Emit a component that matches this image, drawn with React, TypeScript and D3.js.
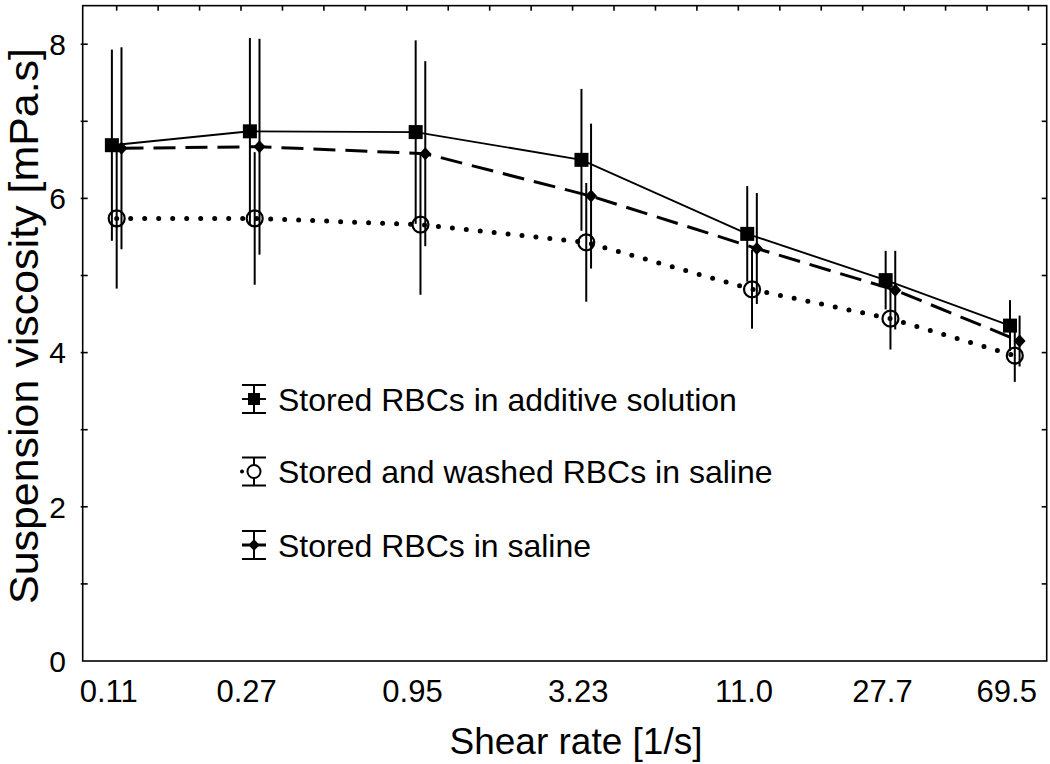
import React from "react";
import * as d3 from "d3";

// ---- data ----
const shearLabels = ["0.11", "0.27", "0.95", "3.23", "11.0", "27.7", "69.5"];
// category positions on the (hidden) x axis, in units of the top minor ticks
const shearPositions = [0, 3.33, 7.33, 11.33, 15.33, 18.67, 21.67];

const additiveMean = [6.69, 6.87, 6.86, 6.5, 5.54, 4.94, 4.35];
const additiveSD = [1.24, 1.21, 1.19, 0.92, 0.62, 0.38, 0.33];

const washedMean = [5.74, 5.74, 5.66, 5.43, 4.82, 4.44, 3.96];
const washedSD = [0.91, 0.86, 0.91, 0.77, 0.51, 0.4, 0.34];

const salineMean = [6.65, 6.67, 6.58, 6.03, 5.35, 4.81, 4.15];
const salineSD = [1.31, 1.4, 1.2, 0.94, 0.72, 0.51, 0.33];

const yTickLabels = [0, 2, 4, 6, 8];
const yMinorTicks = [1, 2, 3, 4, 5, 6, 7, 8];
const topTicks = d3.range(0, 23);

const legendLabels = [
  "Stored RBCs in additive solution",
  "Stored and washed RBCs in saline",
  "Stored RBCs in saline",
];

const W = 1050;
const H = 764;
const FONT = "'Liberation Sans', Arial, Helvetica, sans-serif";

type SeriesDef = {
  mean: number[];
  sd: number[];
  marker: "square" | "circle" | "diamond";
  dash: string;
  width: number;
  cap: "butt" | "round";
  offset: number;
};

const series: SeriesDef[] = [
  { mean: additiveMean, sd: additiveSD, marker: "square", dash: "none", width: 1.9, cap: "butt", offset: -4.8 },
  { mean: washedMean, sd: washedSD, marker: "circle", dash: "0 14", width: 5, cap: "round", offset: 0 },
  { mean: salineMean, sd: salineSD, marker: "diamond", dash: "22 10", width: 3, cap: "butt", offset: 4.8 },
];

function Marker({ kind, x, y }: { kind: string; x: number; y: number }) {
  if (kind === "square") {
    return <rect x={x - 7} y={y - 7} width={14} height={14} fill="#000" />;
  }
  if (kind === "circle") {
    return <circle cx={x} cy={y} r={8} fill="none" stroke="#000" strokeWidth={2.2} />;
  }
  return (
    <path
      d={`M${x},${y - 6.5} L${x + 6},${y} L${x},${y + 6.5} L${x - 6},${y} Z`}
      fill="#000"
    />
  );
}

export default function App() {
  const left = 82.7;
  const right = 1046.7;
  const top = 5.65;
  const bottom = 661;

  const x = d3.scaleLinear().domain([-0.82, 22.44]).range([left, right]);
  const y = d3.scaleLinear().domain([0, 8.5]).range([bottom, top]);

  const line = d3
    .line<[number, number]>()
    .x((d) => d[0])
    .y((d) => d[1]);

  const legendY = [399, 471.5, 545];

  return (
    <svg
      width={W}
      height={H}
      viewBox={`0 0 ${W} ${H}`}
      style={{ position: "absolute", left: 0, top: 0, background: "#fff" }}
      fontFamily={FONT}
    >
      <rect x={0} y={0} width={W} height={H} fill="#fff" />

      {/* series lines */}
      {series.map((s, si) => (
        <path
          key={`line-${si}`}
          d={
            line(
              s.mean.map((m, i) => [x(shearPositions[i]) + s.offset, y(m)] as [number, number])
            ) || ""
          }
          fill="none"
          stroke="#000"
          strokeWidth={s.width}
          strokeDasharray={s.dash}
          strokeLinecap={s.cap}
        />
      ))}

      {/* error bars */}
      {series.map((s, si) =>
        s.mean.map((m, i) => {
          const cx = x(shearPositions[i]) + s.offset;
          return (
            <line
              key={`eb-${si}-${i}`}
              x1={cx}
              x2={cx}
              y1={y(m - s.sd[i])}
              y2={y(m + s.sd[i])}
              stroke="#000"
              strokeWidth={2}
            />
          );
        })
      )}

      {/* markers */}
      {series.map((s, si) =>
        s.mean.map((m, i) => (
          <Marker
            key={`mk-${si}-${i}`}
            kind={s.marker}
            x={x(shearPositions[i]) + s.offset}
            y={y(m)}
          />
        ))
      )}

      {/* frame */}
      <rect
        x={left}
        y={top}
        width={right - left}
        height={bottom - top}
        fill="none"
        stroke="#000"
        strokeWidth={1.6}
      />

      {/* top minor ticks */}
      {topTicks.map((t) => (
        <line key={`tt-${t}`} x1={x(t)} x2={x(t)} y1={top} y2={top + 5} stroke="#000" strokeWidth={1.6} />
      ))}

      {/* left & right ticks */}
      {yMinorTicks.map((t) => (
        <g key={`yt-${t}`}>
          <line x1={left - 2} x2={left + 5} y1={y(t)} y2={y(t)} stroke="#000" strokeWidth={1.6} />
          <line x1={right - 5} x2={right} y1={y(t)} y2={y(t)} stroke="#000" strokeWidth={1.6} />
        </g>
      ))}

      {/* y tick labels */}
      {yTickLabels.map((t) => (
        <text
          key={`yl-${t}`}
          x={66}
          y={y(t)}
          dy="0.36em"
          textAnchor="end"
          fontSize={30}
          fill="#000"
        >
          {t}
        </text>
      ))}

      {/* x tick labels */}
      {shearLabels.map((lab, i) => (
        <text
          key={`xl-${i}`}
          x={x(shearPositions[i]) - 8}
          y={702}
          textAnchor="middle"
          fontSize={31}
          fill="#000"
        >
          {lab}
        </text>
      ))}

      {/* axis titles */}
      <text x={576} y={754} textAnchor="middle" fontSize={37} fill="#000">
        Shear rate [1/s]
      </text>
      <text
        transform={`translate(38, 326) rotate(-90)`}
        textAnchor="middle"
        fontSize={41}
        textLength={556}
        lengthAdjust="spacingAndGlyphs"
        fill="#000"
      >
        Suspension viscosity [mPa.s]
      </text>

      {/* legend */}
      {series.map((s, si) => {
        const ly = legendY[si];
        const lx = 254;
        return (
          <g key={`lg-${si}`}>
            <line x1={lx} x2={lx} y1={ly - 14} y2={ly + 14} stroke="#000" strokeWidth={2} />
            <line x1={lx - 12} x2={lx + 12} y1={ly - 14} y2={ly - 14} stroke="#000" strokeWidth={2} />
            <line x1={lx - 12} x2={lx + 12} y1={ly + 14} y2={ly + 14} stroke="#000" strokeWidth={2} />
            <line
              x1={lx - 12}
              x2={lx + 12}
              y1={ly}
              y2={ly}
              stroke="#000"
              strokeWidth={s.marker === "circle" ? 4 : s.width}
              strokeDasharray={s.marker === "circle" ? "0 12" : s.marker === "diamond" ? "10 4" : "none"}
              strokeLinecap={s.cap}
            />
            {s.marker === "square" ? (
              <rect x={lx - 6} y={ly - 6} width={12} height={12} fill="#000" />
            ) : s.marker === "circle" ? (
              <circle cx={lx} cy={ly} r={6.5} fill="#fff" stroke="#000" strokeWidth={2} />
            ) : (
              <path d={`M${lx},${ly - 6} L${lx + 5.5},${ly} L${lx},${ly + 6} L${lx - 5.5},${ly} Z`} fill="#000" />
            )}
            <text x={278} y={ly} dy="0.36em" fontSize={32} fill="#000">
              {legendLabels[si]}
            </text>
          </g>
        );
      })}
    </svg>
  );
}
